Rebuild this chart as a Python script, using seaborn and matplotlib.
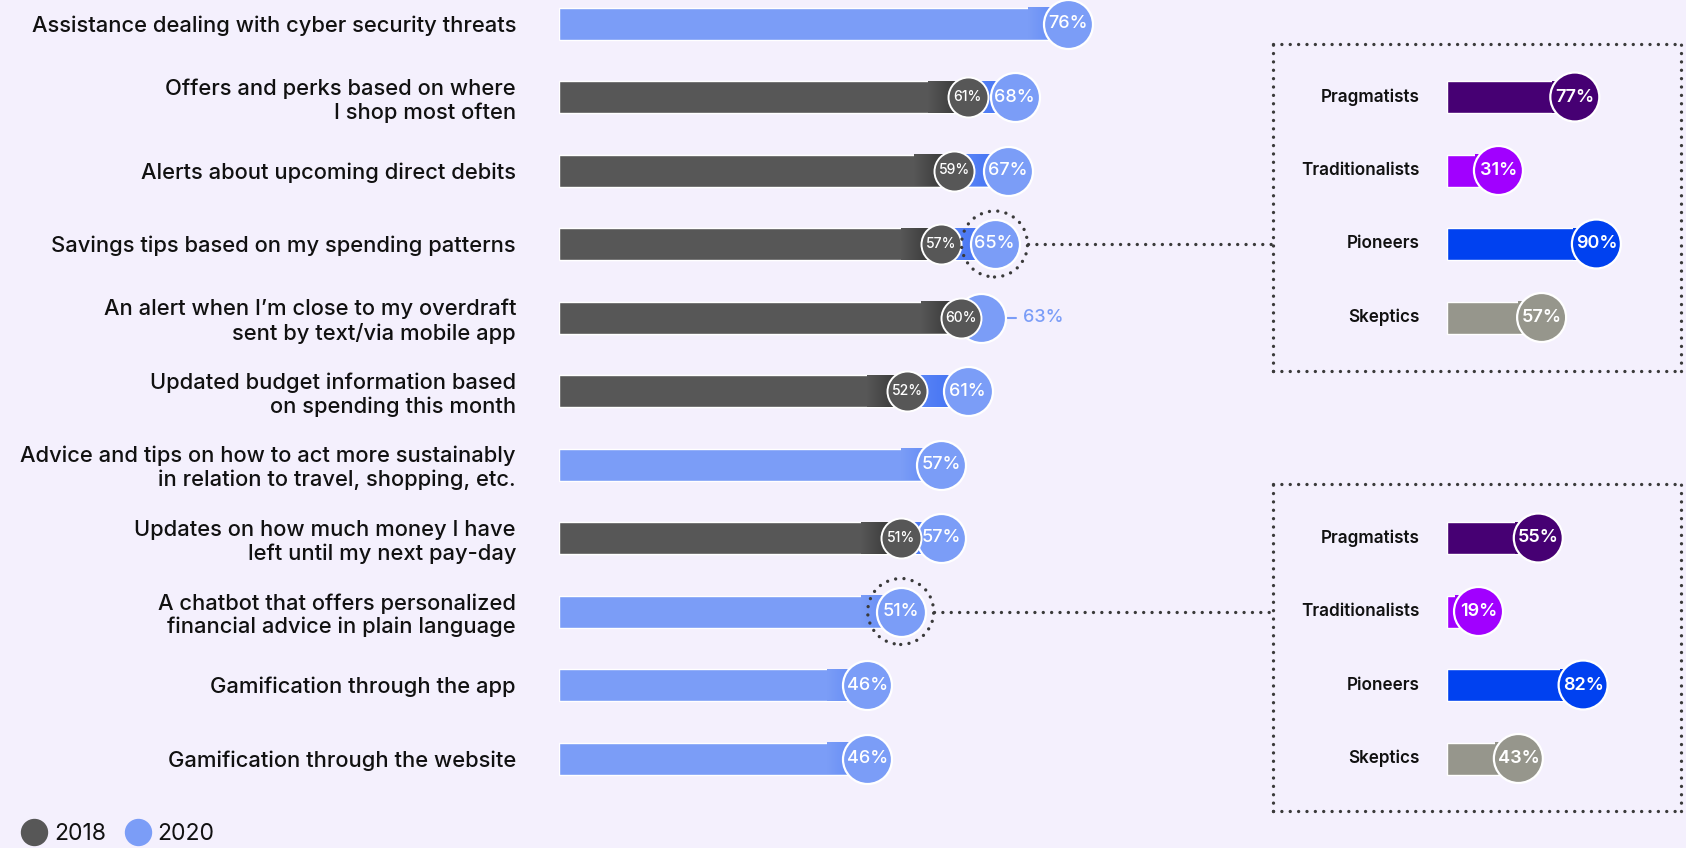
import numpy as np
import pandas as pd
import matplotlib.pyplot as plt
import seaborn as sns
from matplotlib.colors import to_rgba
from matplotlib.lines import Line2D

# data
categories = [
    "Assistance dealing with cyber security threats",
    "Offers and perks based on where\nI shop most often",
    "Alerts about upcoming direct debits",
    "Savings tips based on my spending patterns",
    "An alert when I\u2019m close to my overdraft\nsent by text/via mobile app",
    "Updated budget information based\non spending this month",
    "Advice and tips on how to act more sustainably\nin relation to travel, shopping, etc.",
    "Updates on how much money I have\nleft until my next pay-day",
    "A chatbot that offers personalized\nfinancial advice in plain language",
    "Gamification through the app",
    "Gamification through the website",
]
pct_2020 = [76, 68, 67, 65, 63, 61, 57, 57, 51, 46, 46]
pct_2018 = [None, 61, 59, 57, 60, 52, None, 51, None, None, None]

segments = ["Pragmatists", "Traditionalists", "Pioneers", "Skeptics"]
savings_by_segment = [77, 31, 90, 57]
chatbot_by_segment = [55, 19, 82, 43]

BG = "#f4f0fd"
BLUE = "#7b9df7"
BLUE_DEEP = "#3d6cf2"
GRAY = "#575757"
DOTS = "#3a3a3a"
SEG_COLORS = ["#460073", "#a100ff", "#0041f0", "#96968c"]
DOTTED = (0, (0.01, 2.5))

# layout (pixels of the 1686x848 canvas)
W, H = 1686, 848
X0, PXP = 559, 6.7          # main chart: 0% position, px per percent
ROW0, STEP = 23.5, 73.5     # first row centre, row spacing
BAR_H = 32 / STEP
PX0, PPX = 1447, 1.66       # segment panels: 0% position, px per percent


def darker(c, f=0.6):
    r, g, b, a = to_rgba(c)
    return (r * f, g * f, b * f, a)


def shade(ax, x0, x1, y, c0, c1, z):
    a = np.linspace(0, 1, 64)[:, None]
    rgba = (1 - a) * np.array(to_rgba(c0)) + a * np.array(to_rgba(c1))
    ax.imshow(rgba[None, :, :], extent=(x0, x1, y + BAR_H / 2, y - BAR_H / 2),
              aspect="auto", interpolation="bilinear", zorder=z)


def circ(d_px):
    return (d_px * 72 / 100) ** 2


sns.set_theme(style="white")
plt.rcParams["font.family"] = ["Inter", "DejaVu Sans"]

fig = plt.figure(figsize=(W / 100, H / 100), dpi=100, facecolor=BG)

df = pd.DataFrame({"feature": categories, "y2020": pct_2020, "y2018": pct_2018})

ax = fig.add_axes([X0 / W, 0, (W - X0) / W, 1], facecolor="none")
sns.barplot(data=df, x="y2020", y="feature", orient="h", color=BLUE,
            width=BAR_H, saturation=1, ax=ax)
sns.barplot(data=df.dropna(), x="y2018", y="feature", order=categories,
            orient="h", color=GRAY, width=BAR_H, saturation=1, ax=ax)

for i, (v20, v18) in enumerate(zip(pct_2020, pct_2018)):
    if v18 is None:
        shade(ax, v20 - 6, v20, i, BLUE, "#5a84f5", 2)
    else:
        shade(ax, v18 - 6, v18, i, GRAY, "#2e2e2e", 2)
        shade(ax, v18, v20, i, "#5f8af7", BLUE_DEEP, 2)

ypos = np.arange(len(categories))
ax.scatter(pct_2020, ypos, s=circ(49), color=BLUE, edgecolor="white",
           linewidth=1.6, zorder=5)
has18 = df["y2018"].notna().to_numpy()
ax.scatter(df["y2018"][has18], ypos[has18], s=circ(40), color=GRAY,
           edgecolor="white", linewidth=1.4, zorder=6)

for i, (v20, v18) in enumerate(zip(pct_2020, pct_2018)):
    if v18 is not None:
        ax.text(v18, i, f"{v18}%", color="white", fontsize=10, fontweight="medium",
                ha="center", va="center", zorder=7)
    if v18 is not None and v20 - v18 < 5:
        # circles overlap: label sits outside with a short leader
        ax.plot([v20 + 25 / PXP, v20 + 35 / PXP], [i, i], color=BLUE, lw=1.5, zorder=4)
        ax.text(v20 + 42 / PXP, i, f"{v20}%", color=BLUE, fontsize=13,
                fontweight="medium", ha="left", va="center", zorder=7)
    else:
        ax.text(v20, i, f"{v20}%", color="white", fontsize=13, fontweight="medium",
                ha="center", va="center", zorder=7)

ax.set_xlim(0, (W - X0) / PXP)
ax.set_ylim((H - ROW0) / STEP, -ROW0 / STEP)
ax.set_xlabel("")
ax.set_ylabel("")
ax.set_xticks([])
ax.tick_params(axis="y", length=0, pad=(X0 - 516) * 0.72, labelsize=15.8,
               labelcolor="#111111")
for lab in ax.get_yticklabels():
    lab.set_fontweight("medium")
sns.despine(ax=ax, left=True, bottom=True)


def draw_panel(box, first_row, values, src_row):
    l, t, r, b = box
    pax = fig.add_axes([l / W, 1 - b / H, (r - l) / W, (b - t) / H], facecolor="none")
    pdf = pd.DataFrame({"segment": segments, "pct": values})
    sns.barplot(data=pdf, x="pct", y="segment", hue="segment", palette=SEG_COLORS,
                legend=False, orient="h", width=BAR_H, saturation=1, ax=pax)
    for j, (v, c) in enumerate(zip(values, SEG_COLORS)):
        shade(pax, v - 14, v, j, c, darker(c, 0.55), 2)
    pax.scatter(values, range(len(values)), s=circ(49), c=SEG_COLORS,
                edgecolor="white", linewidth=1.6, zorder=5)
    for j, v in enumerate(values):
        pax.text(v, j, f"{v}%", color="white", fontsize=13, fontweight="semibold",
                 ha="center", va="center", zorder=7)
        pax.text((1420 - l) / (r - l), j, segments[j], transform=pax.get_yaxis_transform(),
                 ha="right", va="center", fontsize=12.3, fontweight="semibold",
                 color="#111111")
    y0 = ROW0 + first_row * STEP
    pax.set_xlim(-(PX0 - l) / PPX, (r - PX0) / PPX)
    pax.set_ylim((b - y0) / STEP, (t - y0) / STEP)
    pax.set_xlabel("")
    pax.set_ylabel("")
    pax.set_xticks([])
    pax.set_yticks([])
    for s in pax.spines.values():
        s.set_visible(True)
        s.set_linestyle(DOTTED)
        s.set_linewidth(2.4)
        s.set_edgecolor(DOTS)
        s.set_capstyle("round")

    # dotted ring round the 2020 circle and connector to the box
    v = pct_2020[src_row]
    ax.scatter([v], [src_row], s=circ(66), facecolor="none", edgecolor=DOTS,
               linewidth=2.4, linestyle=DOTTED, capstyle="round", zorder=6)
    ax.plot([v + 33 / PXP, (l - X0) / PXP], [src_row, src_row], color=DOTS, lw=2.4,
            linestyle=DOTTED, dash_capstyle="round", zorder=3)


draw_panel((1273, 44, 1681, 371), 1, savings_by_segment, 3)
draw_panel((1273, 484, 1681, 811), 7, chatbot_by_segment, 8)

handles = [
    Line2D([], [], marker="o", ls="", markersize=18.7, markerfacecolor=GRAY, markeredgecolor=GRAY),
    Line2D([], [], marker="o", ls="", markersize=18.7, markerfacecolor=BLUE, markeredgecolor=BLUE),
]
fig.legend(handles, ["2018", "2020"], loc="lower left", bbox_to_anchor=(0.0, -0.021),
           ncol=2, frameon=False, fontsize=16.5, handletextpad=0.25, columnspacing=0.8,
           handlelength=1.2, labelcolor="#111111")

fig.savefig("out.png", dpi=100, facecolor=BG)
